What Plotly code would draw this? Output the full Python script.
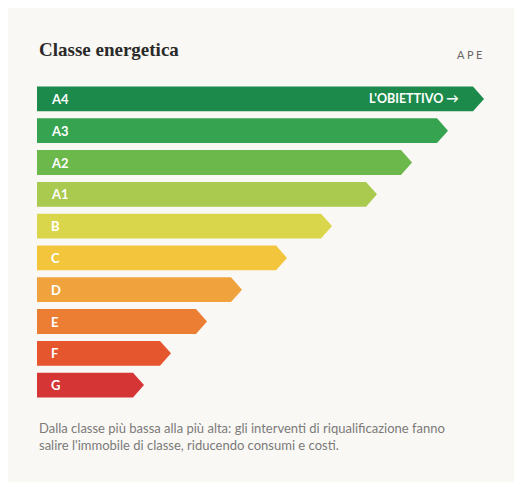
import plotly.graph_objects as go

classes = ["A4", "A3", "A2", "A1", "B", "C", "D", "E", "F", "G"]
lengths = [447, 411, 375, 340, 295, 250, 205, 170, 134, 107]
colors = ["#1b8a4b", "#35a34f", "#6cb84b", "#a9ca4e", "#dad64c", "#f2c53c",
          "#f0a33d", "#ec7e34", "#e5562f", "#d53535"]
tip_label = "L'OBIETTIVO →"
title = "Classe energetica"
tag = "A P E"
caption = ("Dalla classe più bassa alla più alta: gli interventi di riqualificazione fanno<br>"
           "salire l'immobile di classe, riducendo consumi e costi.")

H = 0.39
TIP = 11
fig = go.Figure()
n = len(classes)
for i, (c, L, col) in enumerate(zip(classes, lengths, colors)):
    y = n - 1 - i
    xs = [0, L - TIP, L, L - TIP, 0, 0]
    ys = [y + H, y + H, y, y - H, y - H, y + H]
    fig.add_trace(go.Scatter(x=xs, y=ys, fill="toself", fillcolor=col, mode="lines",
                             line=dict(width=0), hoverinfo="skip", showlegend=False))
    fig.add_annotation(x=0, y=y, xref="x", yref="y", text=c, showarrow=False,
                       xanchor="left", xshift=12,
                       font=dict(family="Lato", size=13, color="white", weight="bold"))
    if i == 0:
        fig.add_annotation(x=L - TIP, y=y, xref="x", yref="y", text=tip_label,
                           showarrow=False, xanchor="right", xshift=-12,
                           font=dict(family="Lato", size=12.5, color="white", weight="bold"))

fig.add_annotation(x=0, y=1.104, xref="paper", yref="paper", text=title, showarrow=False,
                   xanchor="left", yanchor="middle",
                   font=dict(family="Liberation Serif", size=19, color="#2a2a2a", weight="bold"))
fig.add_annotation(x=1, y=1.091, xref="paper", yref="paper", text=tag, showarrow=False,
                   xanchor="right", yanchor="middle",
                   font=dict(family="Lato", size=11, color="#666666"))
fig.add_annotation(x=0, y=-0.053, xref="paper", yref="paper", text=caption, showarrow=False,
                   xanchor="left", yanchor="top", align="left",
                   font=dict(family="Lato", size=13, color="#7a7a7a"))

fig.update_layout(width=506, height=474, margin=dict(l=29, r=30, t=75, b=81),
                  paper_bgcolor="#faf8f4", plot_bgcolor="#faf8f4",
                  xaxis=dict(range=[0, 447], visible=False, fixedrange=True),
                  yaxis=dict(range=[-0.5, n - 0.5], visible=False, fixedrange=True))
fig.write_html("out.html")
